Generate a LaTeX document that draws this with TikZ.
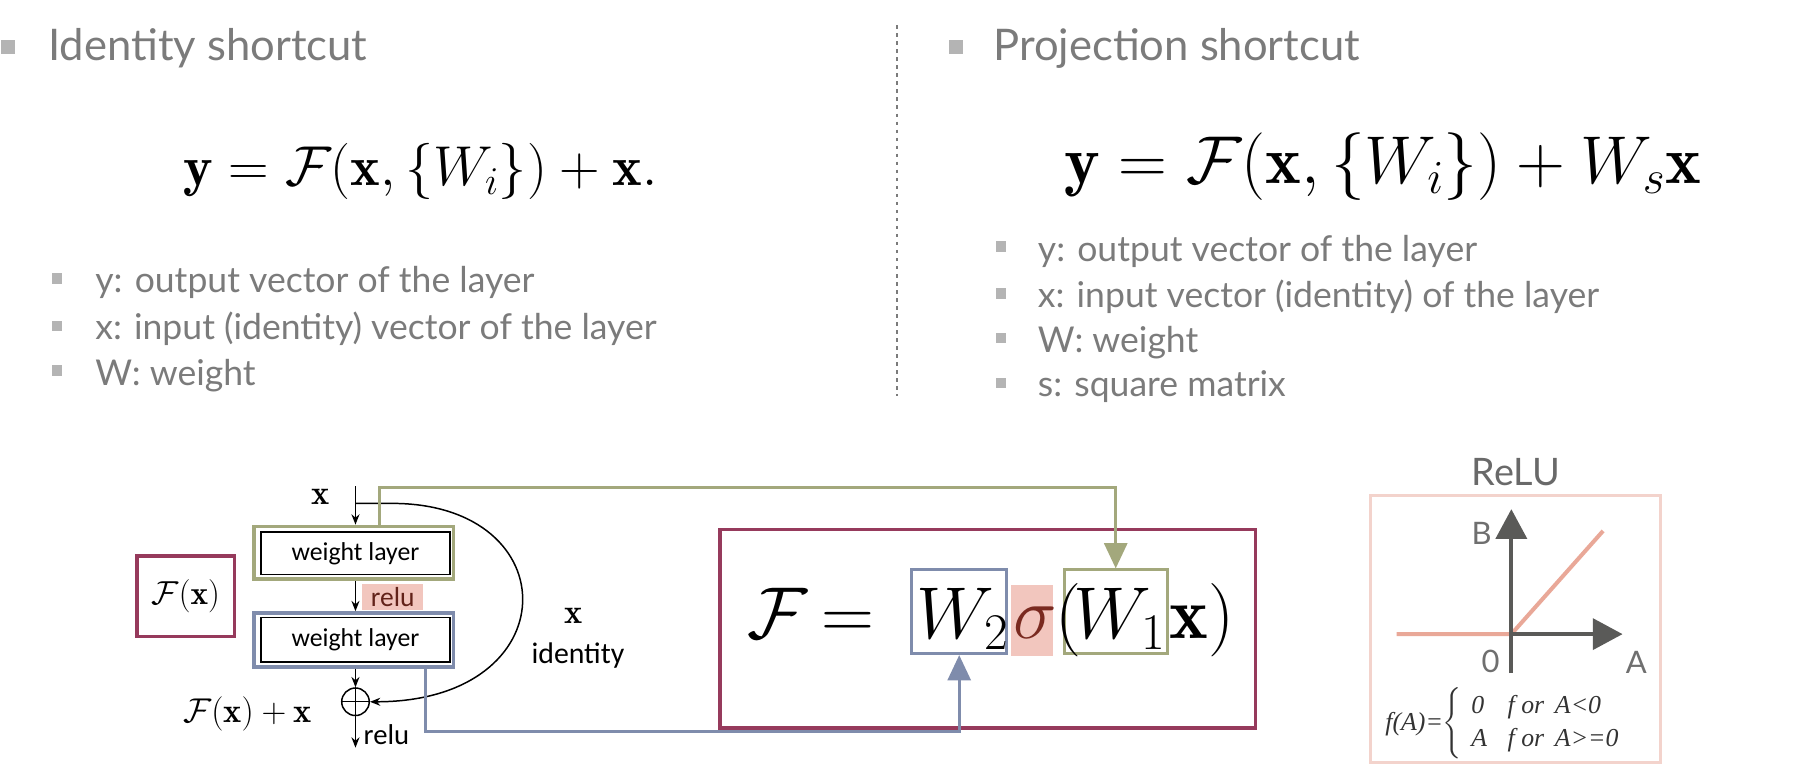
\RequirePackage{fix-cm}
\documentclass[tikz,border=0pt]{standalone}
\usepackage{amsmath}
\usepackage{fontspec}
\newfontfamily\gillfont{Lato}
\newfontfamily\califont{Carlito}
\newfontfamily\timesfont{Liberation Serif}
\usetikzlibrary{arrows.meta}
\definecolor{txtgray}{HTML}{7B7B7B}
\definecolor{bulgray}{HTML}{B4B4B4}
\definecolor{olivec}{HTML}{A3A87C}
\definecolor{slatec}{HTML}{7F8CAC}
\definecolor{maroonc}{HTML}{963A5C}
\definecolor{pinkbg}{HTML}{F2C6BE}
\definecolor{pinkline}{HTML}{E9A898}
\definecolor{pinkbox}{HTML}{F3D3CC}
\definecolor{axisgray}{HTML}{5A5A58}
\definecolor{sigmac}{HTML}{7A2A20}
\tikzset{
  bulletsq/.style={fill=bulgray,minimum size=#1,inner sep=0pt,outer sep=0pt},
  titletext/.style={font=\gillfont\fontsize{38}{40}\selectfont,text=txtgray,inner sep=0pt,anchor=base west},
  listtext/.style={font=\gillfont\fontsize{31}{34}\selectfont,text=txtgray,inner sep=0pt,anchor=base west},
  crayon/.style={draw=#1,line width=3pt,inner sep=0pt},
  wlinner/.style={draw=black,line width=1.5pt,minimum width=165pt,minimum height=37pt,inner sep=0pt,font=\califont\fontsize{22.5}{24}\selectfont},
  blk/.style={line width=1.3pt,-{Stealth[length=9pt,width=7pt]}},
  carl/.style={font=\califont\fontsize{25}{28}\selectfont,inner sep=0pt},
  midmath/.style={font=\fontsize{30}{34}\selectfont,inner sep=0pt},
  bigf/.style={font=\fontsize{64}{70}\selectfont,inner sep=0pt,anchor=base west},
  colpath/.style={line width=2.6pt,draw=#1,-{Triangle[length=22pt,width=20pt]},color=#1},
  axis/.style={line width=3.5pt,draw=axisgray,-{Triangle[length=26pt,width=27pt]},color=axisgray},
  relutext/.style={font=\gillfont\fontsize{27}{30}\selectfont,text=txtgray!90!black,inner sep=0pt},
}
\begin{document}
\begin{tikzpicture}[x=1pt,y=-1pt]
\useasboundingbox (0,0) rectangle (1568,680);
% ---------- top left
\node[bulletsq=12pt] (bl0) at (7,41) {};
\node[titletext] (tl) at (42,53) {Identity shortcut};
\node[font=\fontsize{49}{54}\selectfont,inner sep=0pt,anchor=base west] (eqa) at (160,162)
  {$\mathbf{y} = \mathcal{F}(\mathbf{x}, \{W_i\}) + \mathbf{x}.$};
\node[bulletsq=9pt] (bl1) at (50,243) {};
\node[listtext] (l1) at (83,255) {y: output vector of the layer};
\node[bulletsq=9pt] (bl2) at (50,284) {};
\node[listtext] (l2) at (83,296) {x: input (identity) vector of the layer};
\node[bulletsq=9pt] (bl3) at (50,323) {};
\node[listtext] (l3) at (83,336) {W: weight};
% separator
\coordinate (sepa) at (782,22);
\coordinate (sepb) at (782,345);
\draw[line width=1.6pt,draw=txtgray,dash pattern=on 3pt off 4pt] (sepa) -- (sepb);
% ---------- top right
\node[bulletsq=12pt] (br0) at (834,41) {};
\node[titletext] (tr) at (866,53) {Projection shortcut};
\node[font=\fontsize{59}{64}\selectfont,inner sep=0pt,anchor=base west] (eqb) at (928,160)
  {$\mathbf{y} = \mathcal{F}(\mathbf{x}, \{W_i\}) + W_s\mathbf{x}$};
\node[bulletsq=9pt] (br1) at (873,215) {};
\node[listtext] (r1) at (905,228) {y: output vector of the layer};
\node[bulletsq=9pt] (br2) at (873,256) {};
\node[listtext] (r2) at (905,268) {x: input vector (identity) of the layer};
\node[bulletsq=9pt] (br3) at (873,295) {};
\node[listtext] (r3) at (905,307) {W: weight};
\node[bulletsq=9pt] (br4) at (873,334) {};
\node[listtext] (r4) at (905,346) {s: square matrix};
% ---------- residual block
\node[midmath] (xin) at (280,433) {$\mathbf{x}$};
\coordinate (topx) at (310,424);
\coordinate (tick) at (310,439);
\coordinate (tickr) at (342,439);
\node[crayon=olivec,minimum width=174pt,minimum height=46pt] (wo1) at (308.5,482) {};
\node[wlinner] (wl1) at (310,482.5) {weight layer};
\node[fill=pinkbg,minimum width=53pt,minimum height=23pt,inner sep=0pt,font=\califont\fontsize{24}{26}\selectfont,text=sigmac!80!black] (relua) at (342.5,520.5) {relu};
\node[crayon=slatec,minimum width=174pt,minimum height=47pt] (wo2) at (308.5,558) {};
\node[wlinner,minimum height=39pt] (wl2) at (310,558) {weight layer};
\node[circle,draw=black,line width=1.3pt,minimum size=24pt,inner sep=0pt] (plus) at (310,612) {};
\draw[line width=1.1pt] (plus.north) -- (plus.south);
\draw[line width=1.1pt] (plus.west) -- (plus.east);
\coordinate (outc) at (310,652);
\draw[line width=1.3pt] (topx) -- (tick);
\draw[blk] (tick) -- (wo1.north -| tick);
\draw[blk] (wo1.south -| tick) -- (wo2.north -| tick);
\draw[blk] (wo2.south -| tick) -- (plus.north);
\draw[blk] (plus.south) -- (outc);
\draw[blk] (tick) -- (tickr) .. controls (496,439) and (496,612) .. (plus.east);
\node[carl,anchor=west] (relub) at (317,641) {relu};
\node[midmath] (fxx) at (216,623) {$\mathcal{F}(\mathbf{x}) + \mathbf{x}$};
\node[crayon=maroonc,minimum width=85pt,minimum height=70pt,font=\fontsize{29}{32}\selectfont] (fbox) at (162,520) {$\mathcal{F}(\mathbf{x})$};
\node[midmath] (xid) at (500,537) {$\mathbf{x}$};
\node[carl,font=\califont\fontsize{26}{28}\selectfont] (ident) at (504,572) {identity};
% ---------- big formula
\node[crayon=maroonc,minimum width=467pt,minimum height=173pt] (bigbox) at (861.5,548.5) {};
\node[bigf] (fF) at (652,557) {$\mathcal{F}$};
\node[bigf] (fEq) at (716,557) {$=$};
\node[crayon=slatec,line width=2.6pt,minimum width=83pt,minimum height=73pt] (w2) at (836.5,533.5) {};
\node[bigf] (w2t) at (799,557) {$W_{2}$};
\node[fill=pinkbg,minimum width=36pt,minimum height=62pt,inner sep=0pt] (sig) at (900,541) {};
\node[bigf,text=sigmac] (sigt) at (884,557) {$\sigma$};
\node[crayon=olivec,line width=2.6pt,minimum width=90pt,minimum height=73pt] (w1) at (973,533.5) {};
\node[bigf] (lp) at (920,557) {$($};
\node[bigf] (w1t) at (936,557) {$W_{1}$};
\node[bigf] (xr) at (1020,557) {$\mathbf{x})$};
% colored connectors
\coordinate (gc) at (331,425);
\coordinate (bc) at (371,638);
\draw[colpath=olivec] (gc |- wo1.north) -- (gc) -| (w1.north);
\draw[colpath=slatec] (bc |- wo2.south) -- (bc) -| (w2.south);
% ---------- ReLU
\node[font=\gillfont\fontsize{33}{36}\selectfont,text=txtgray!85!black,inner sep=0pt] (relutitle) at (1322,412) {ReLU};
\node[draw=pinkbox,line width=3pt,minimum width=253pt,minimum height=233pt,inner sep=0pt] (relubox) at (1321.5,548.5) {};
\coordinate (origin) at (1318,553);
\coordinate (vbot) at (1318,587);
\coordinate (vtop) at (1318,444);
\coordinate (hend) at (1415,553);
\coordinate (lneg) at (1218,553);
\coordinate (lpos) at (1398,463);
\draw[line width=3.5pt,draw=pinkline] (lneg) -- (origin) -- (lpos);
\draw[axis] (vbot) -- (vtop);
\draw[axis] (origin) -- (hend);
\node[relutext] (lb) at (1292,465) {B};
\node[relutext] (l0) at (1300,577) {0};
\node[relutext] (la) at (1427,578) {A};
\node[font=\timesfont\itshape\fontsize{22.5}{26}\selectfont,inner sep=0pt,text=black!80,anchor=west] (fa) at (1208,631)
  {f(A)=$\left\{\renewcommand{\arraystretch}{1.1}\begin{tabular}{@{\hspace{8pt}}l@{\hspace{18pt}}l@{}}0 & f or \,A<0\\ A & f or \,A>=0\end{tabular}\right.$};
\end{tikzpicture}
\end{document}
